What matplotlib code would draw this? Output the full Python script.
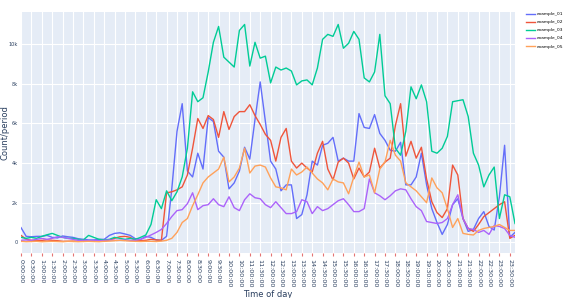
import numpy as np
import matplotlib
matplotlib.use("Agg")
import matplotlib.pyplot as plt

# 15 minute slots, 0:00:00 .. 23:45:00
times = [f"{h}:{m:02d}:00" for h in range(24) for m in (0, 15, 30, 45)]
tick_labels = times[::2]

series_names = ["example_01", "example_02", "example_03", "example_04", "example_05"]

example_01 = [740, 300, 280, 300, 300, 350, 250, 220, 320, 280,
              250, 180, 150, 120, 120, 150, 150, 350, 450, 480,
              420, 350, 180, 150, 300, 250, 120, 100, 300, 2700,
              5600, 7000, 3600, 3300, 4500, 3700, 6300, 6100, 4600, 4300,
              2700, 3000, 3600, 4800, 4200, 6200, 8100, 6100, 4100, 3700,
              2600, 2900, 2900, 1200, 1400, 2400, 4100, 3900, 4900, 5000,
              5300, 4100, 4250, 4100, 4100, 6500, 5800, 5750, 6450, 5500,
              5150, 4650, 4600, 5050, 2900, 2900, 3300, 4500, 2900, 1700,
              1000, 400, 900, 1900, 2200, 1200, 550, 650, 1200, 1550,
              800, 620, 2300, 4900, 250, 500]
example_02 = [350, 150, 100, 80, 100, 120, 100, 80, 50, 50,
              60, 50, 60, 50, 50, 60, 50, 120, 200, 280,
              300, 250, 100, 80, 100, 150, 120, 100, 2500, 2550,
              2650, 2800, 3400, 4750, 6250, 5750, 6400, 6200, 5300, 6600,
              5700, 6350, 6600, 6600, 6950, 6400, 5950, 5450, 5150, 4100,
              5300, 5750, 4100, 3750, 4000, 3750, 3550, 4500, 5100, 3700,
              3150, 4050, 4250, 4000, 3200, 3750, 3300, 3550, 4750, 3750,
              4050, 4250, 5900, 7000, 4350, 5100, 4250, 4800, 3200, 2050,
              1500, 1250, 1700, 3900, 3400, 1200, 700, 550, 900, 1300,
              1500, 1700, 1900, 2050, 200, 350]
example_03 = [250, 200, 250, 200, 300, 380, 450, 350, 250, 200,
              200, 150, 120, 350, 250, 150, 120, 150, 250, 200,
              150, 200, 150, 250, 370, 900, 2150, 1700, 2600, 2100,
              2550, 3300, 4750, 7600, 7100, 7300, 8600, 10100, 10900, 9350,
              9100, 8850, 10700, 11000, 8900, 10100, 9300, 9400, 8050, 8850,
              8700, 8800, 8650, 7950, 8150, 8200, 7950, 8800, 10250, 10500,
              10400, 11000, 9800, 10050, 10650, 10250, 8300, 8100, 8600, 10500,
              7400, 7000, 4750, 4400, 5600, 7850, 7250, 7950, 7100, 4600,
              4500, 4750, 5350, 7100, 7150, 7200, 6350, 4500, 3900, 2800,
              3400, 3800, 1200, 2400, 2300, 950]
example_04 = [100, 120, 100, 150, 200, 150, 200, 280, 250, 200,
              150, 100, 100, 80, 100, 80, 100, 120, 100, 100,
              120, 100, 100, 150, 250, 370, 500, 650, 950, 1300,
              1600, 1650, 1950, 2500, 1650, 1850, 1900, 2200, 1900, 1800,
              2300, 1750, 1600, 2150, 2450, 2250, 2200, 1900, 1750, 2050,
              1750, 1450, 1450, 1550, 2150, 2050, 1450, 1800, 1600, 1700,
              1900, 2100, 2200, 1900, 1550, 1550, 1700, 3200, 2500, 2350,
              2150, 2350, 2600, 2700, 2650, 2200, 1800, 1600, 1050, 1000,
              950, 1000, 1200, 1900, 2400, 1200, 700, 650, 500, 600,
              400, 850, 800, 700, 350, 250]
example_05 = [50, 30, 40, 50, 30, 40, 50, 40, 30, 50,
              40, 30, 40, 50, 40, 30, 50, 60, 80, 100,
              80, 60, 50, 40, 50, 50, 40, 60, 100, 200,
              500, 1000, 1200, 1850, 2400, 3000, 3300, 3500, 3700, 4300,
              3050, 3300, 3750, 4750, 3500, 3850, 3900, 3800, 3250, 2800,
              2750, 2650, 3700, 3400, 3550, 3800, 3500, 3200, 3000, 2650,
              3200, 3050, 3000, 2450, 3300, 4050, 3300, 3400, 2500, 3700,
              4050, 5150, 4400, 4100, 3000, 2800, 2600, 2300, 2000, 3250,
              2750, 2500, 1700, 750, 1200, 450, 400, 370, 600, 700,
              750, 800, 900, 750, 600, 600]

colors = ["#636EFA", "#EF553B", "#00CC96", "#AB63FA", "#FFA15A"]
y_ticks = [0, 2000, 4000, 6000, 8000, 10000]
y_tick_labels = ["0", "2k", "4k", "6k", "8k", "10k"]

fig = plt.figure(figsize=(5.68, 2.98), dpi=100)
ax = fig.add_axes([21 / 568, 1 - 253 / 298, (515 - 21) / 568, (253 - 12) / 298])
ax.set_facecolor("#E5ECF6")

x = np.arange(len(times))
all_series = [example_01, example_02, example_03, example_04, example_05]
for name, vals, col in zip(series_names, all_series, colors):
    ax.plot(x, vals, color=col, lw=1.0, label=name)

ax.set_xlim(0, len(times) - 1)
ax.set_ylim(-540, 11630)

ax.set_xticks(x[::2])
ax.set_xticklabels(tick_labels, rotation=-90, fontsize=4.6, color="#2a3f5f")
ax.set_yticks(y_ticks)
ax.set_yticklabels(y_tick_labels, fontsize=3.6, color="#2a3f5f")
ax.tick_params(axis="x", length=2, width=0.8, color="#e57373", pad=2)
ax.tick_params(axis="y", length=0, pad=2)

ax.grid(True, color="white", lw=0.8)
ax.set_axisbelow(True)
for s in ax.spines.values():
    s.set_visible(False)

ax.set_xlabel("Time of day", fontsize=6, color="#2a3f5f", labelpad=2)
ax.set_ylabel("Count/period", fontsize=6, color="#2a3f5f")
ax.yaxis.set_label_coords(-0.023, 0.5)

fig.legend(loc="upper left", bbox_to_anchor=(526 / 568, 1 - 12 / 298),
           frameon=False, fontsize=3.2, handlelength=2.0, labelspacing=0.9,
           handletextpad=0.4, borderaxespad=0, borderpad=0)

fig.savefig("out.png", dpi=100)
